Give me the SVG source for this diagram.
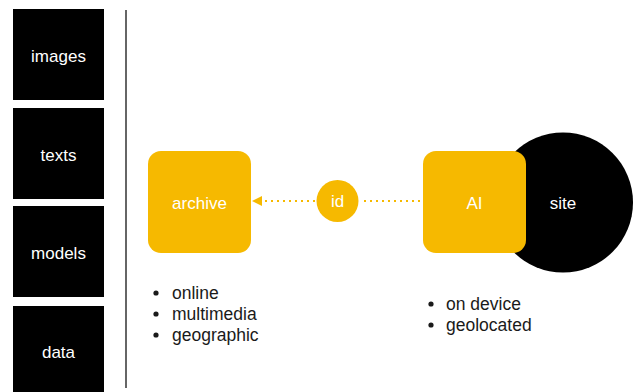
<svg xmlns="http://www.w3.org/2000/svg" width="633" height="392" viewBox="0 0 633 392">
<defs>
<style>
.lbl{font-family:"Liberation Sans",Arial,sans-serif;font-size:17px;fill:#ffffff;text-anchor:middle}
.blt{font-family:"Liberation Sans",Arial,sans-serif;font-size:17.5px;fill:#1a1a1a}
.blk{fill:#000000}
.org{fill:#F6B900}
.dot{stroke:#F6B900;stroke-width:2;stroke-dasharray:2 4;fill:none}
</style>
<marker id="ah" viewBox="0 0 10 10" refX="0" refY="5" markerWidth="10" markerHeight="10" markerUnits="userSpaceOnUse" orient="auto">
<path d="M0,0 L10,5 L0,10 Z" fill="#F6B900"/>
</marker>
</defs>
<rect width="633" height="392" fill="#ffffff"/>
<g id="images"><rect class="blk" x="13" y="9" width="91" height="91"/><text class="lbl" x="58.5" y="62">images</text></g>
<g id="texts"><rect class="blk" x="13" y="108" width="91" height="91"/><text class="lbl" x="58.5" y="161">texts</text></g>
<g id="models"><rect class="blk" x="13" y="206" width="91" height="91"/><text class="lbl" x="58.5" y="259">models</text></g>
<g id="data"><rect class="blk" x="13" y="306" width="91" height="91"/><text class="lbl" x="58.5" y="358">data</text></g>
<line x1="126" y1="10" x2="126" y2="388" stroke="#666666" stroke-width="2"/>
<g id="site"><circle class="blk" cx="563" cy="202.5" r="70"/><text class="lbl" x="563" y="209">site</text></g>
<g id="connectors">
<line class="dot" x1="420" y1="201" x2="360" y2="201"/>
<line class="dot" x1="315" y1="201" x2="262" y2="201" marker-end="url(#ah)"/>
</g>
<g id="archive"><rect class="org" x="148" y="151" width="103" height="102" rx="13"/><text class="lbl" x="199.5" y="209">archive</text></g>
<g id="id"><circle class="org" cx="337.5" cy="201" r="21"/><text class="lbl" x="337.5" y="207">id</text></g>
<g id="AI"><rect class="org" x="423" y="151" width="103" height="102" rx="13"/><text class="lbl" x="474.5" y="209">AI</text></g>
<g id="archive-notes">
<circle cx="156" cy="293" r="2.6" fill="#1a1a1a"/><text class="blt" x="172" y="299">online</text>
<circle cx="156" cy="314" r="2.6" fill="#1a1a1a"/><text class="blt" x="172" y="320">multimedia</text>
<circle cx="156" cy="335" r="2.6" fill="#1a1a1a"/><text class="blt" x="172" y="341">geographic</text>
</g>
<g id="site-notes">
<circle cx="431" cy="304" r="2.6" fill="#1a1a1a"/><text class="blt" x="446" y="310">on device</text>
<circle cx="431" cy="325" r="2.6" fill="#1a1a1a"/><text class="blt" x="446" y="331">geolocated</text>
</g>
</svg>
